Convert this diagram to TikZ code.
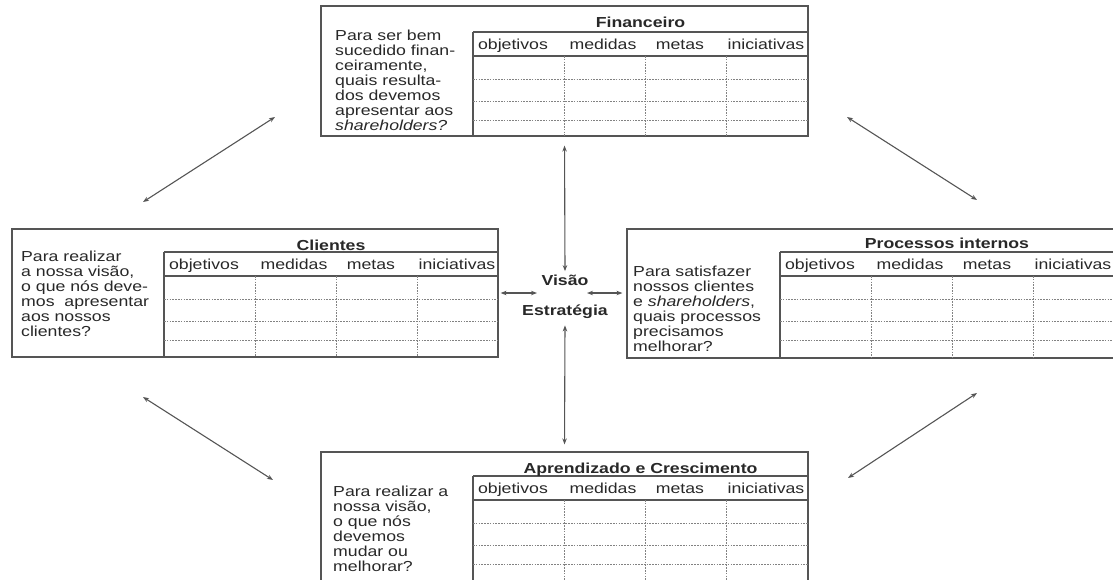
\documentclass[tikz,border=0pt]{standalone}
\usepackage{fontspec}
\setmainfont{Liberation Sans}[FakeStretch=1.22]
\usetikzlibrary{arrows.meta}

\newcommand\fonte{\fontsize{14.5}{15}\selectfont}
\definecolor{texto}{RGB}{40,40,40}
\definecolor{traco}{RGB}{85,85,85}
\definecolor{grade}{RGB}{130,130,130}

\tikzset{
  caixa/.style={draw=traco, line width=1.2pt, inner sep=0pt},
  linha/.style={draw=traco, line width=1.1pt},
  grelha/.style={draw=grade, line width=0.7pt, dash pattern=on 1.6pt off 1.2pt},
  seta/.style={draw=traco, line width=1.1pt, {Stealth[length=6pt,width=4.5pt]}-{Stealth[length=6pt,width=4.5pt]}},
  titulo/.style={font=\fonte\bfseries, text=texto},
  coluna/.style={text=texto, text height=10.5pt, text depth=3pt, inner sep=0pt},
  pergunta/.style={align=left, text=texto, anchor=north west, inner sep=0pt},
}

\begin{document}
\begin{tikzpicture}[x=1pt, y=-1pt, font=\fonte]
\useasboundingbox (0,0) rectangle (1113,579);

% Financeiro
\node[caixa, minimum width=487pt, minimum height=130pt] (fin) at (564.5,71) {};
\draw[linha] (473,32) -- (808,32) (473,32) -- (473,136) (473,56) -- (808,56);
\draw[grelha] (473,79) -- (808,79) (473,101) -- (808,101) (473,120) -- (808,120);
\draw[grelha] (564,56) -- (564,136) (645,56) -- (645,136) (726,56) -- (726,136);
\node[titulo] at (640.5,22) {Financeiro};
\node[coluna] at (513,46) {objetivos};
\node[coluna] at (603,46) {medidas};
\node[coluna] at (680,46) {metas};
\node[coluna] at (766,46) {iniciativas};
\node[pergunta] (pfin) at (335,30) {Para ser bem\\sucedido finan-\\ceiramente,\\quais resulta-\\dos devemos\\apresentar aos\\\textit{shareholders?}};

% Clientes
\node[caixa, minimum width=486pt, minimum height=128pt] (cli) at (255,293) {};
\draw[linha] (164,252) -- (498,252) (164,252) -- (164,357) (164,276) -- (498,276);
\draw[grelha] (164,299) -- (498,299) (164,321) -- (498,321) (164,340) -- (498,340);
\draw[grelha] (255,276) -- (255,357) (336,276) -- (336,357) (417,276) -- (417,357);
\node[titulo] at (331,245) {Clientes};
\node[coluna] at (204,266) {objetivos};
\node[coluna] at (294,266) {medidas};
\node[coluna] at (371,266) {metas};
\node[coluna] at (457,266) {iniciativas};
\node[pergunta] (pcli) at (21,250.5) {Para realizar\\a nossa visão,\\o que nós deve-\\mos\ \ apresentar\\aos nossos\\clientes?};

% Processos internos
\node[caixa, minimum width=489pt, minimum height=129pt] (pro) at (871.5,293.5) {};
\draw[linha] (780,252) -- (1116,252) (780,252) -- (780,358) (780,276) -- (1116,276);
\draw[grelha] (780,299) -- (1116,299) (780,321) -- (1116,321) (780,340) -- (1116,340);
\draw[grelha] (871,276) -- (871,358) (952,276) -- (952,358) (1033,276) -- (1033,358);
\node[titulo] at (947,243) {Processos internos};
\node[coluna] at (820,266) {objetivos};
\node[coluna] at (910,266) {medidas};
\node[coluna] at (987,266) {metas};
\node[coluna] at (1073,266) {iniciativas};
\node[pergunta] (ppro) at (633,265.5) {Para satisfazer\\nossos clientes\\e \textit{shareholders},\\quais processos\\precisamos\\melhorar?};

% Aprendizado e Crescimento
\node[caixa, minimum width=487pt, minimum height=148pt] (apr) at (564.5,526) {};
\draw[linha] (473,476) -- (808,476) (473,476) -- (473,600) (473,500) -- (808,500);
\draw[grelha] (473,523) -- (808,523) (473,545) -- (808,545) (473,564) -- (808,564);
\draw[grelha] (564,500) -- (564,600) (645,500) -- (645,600) (726,500) -- (726,600);
\node[titulo] at (640.5,470) {Aprendizado e Crescimento};
\node[coluna] at (513,490) {objetivos};
\node[coluna] at (603,490) {medidas};
\node[coluna] at (680,490) {metas};
\node[coluna] at (766,490) {iniciativas};
\node[pergunta] (papr) at (333,485.5) {Para realizar a\\nossa visão,\\o que nós\\devemos\\mudar ou\\melhorar?};

% centro
\node[titulo] (visao) at (565,280) {Visão};
\node[titulo] (estrategia) at (565,312) {Estratégia};
\coordinate (ve) at (537,293);
\coordinate (vd) at (587,293);
\draw[seta, shorten <=9pt] (fin.south) -- (visao.north);
\draw[seta, shorten <=3pt, shorten >=7pt] (estrategia.south) -- (apr.north);
\draw[seta, shorten <=2pt] (cli.east) -- (ve);
\draw[seta, shorten >=4pt] (vd) -- (vd -| pro.west);

% diagonais
\coordinate (d1) at (143,202);
\coordinate (d2) at (275,117);
\coordinate (d3) at (847,117);
\coordinate (d4) at (977,200);
\coordinate (d5) at (143,397);
\coordinate (d6) at (273,480);
\coordinate (d7) at (848,478);
\coordinate (d8) at (977,393);
\draw[seta] (d1) -- (d2);
\draw[seta] (d3) -- (d4);
\draw[seta] (d5) -- (d6);
\draw[seta] (d7) -- (d8);
\end{tikzpicture}
\end{document}
